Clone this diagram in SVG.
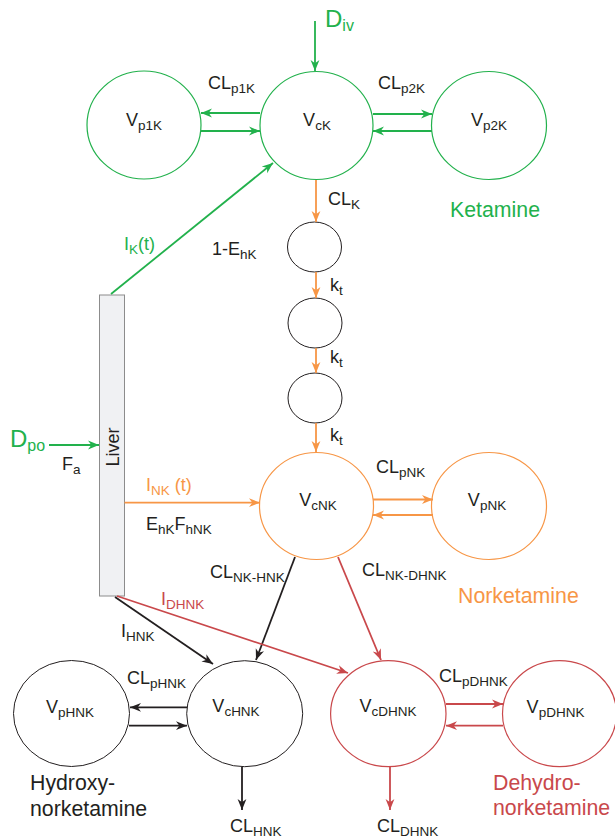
<svg xmlns="http://www.w3.org/2000/svg" width="615" height="839" viewBox="0 0 615 839">
<style>
text{font-family:"Liberation Sans",Arial,sans-serif;font-size:18px;fill:#231f20}
.s{font-size:13.5px}
.g{fill:#22b14c}.o{fill:#f79646}.r{fill:#c9484b}
.big{font-size:24px}
.title{font-size:21.3px}
.cg{fill:none;stroke:#22b14c;stroke-width:1.2}
.co{fill:none;stroke:#f79646;stroke-width:1.2}
.cr{fill:none;stroke:#c9484b;stroke-width:1.2}
.ck{fill:none;stroke:#231f20;stroke-width:1}
.lg{stroke:#22b14c;stroke-width:1.8;fill:none}
.lo{stroke:#f79646;stroke-width:1.8;fill:none}
.lr{stroke:#c9484b;stroke-width:1.8;fill:none}
.lk{stroke:#231f20;stroke-width:1.8;fill:none}
</style>
<defs>
<marker id="ag" viewBox="0 0 10 10" refX="10" refY="5" markerWidth="11" markerHeight="11" markerUnits="userSpaceOnUse" orient="auto"><path d="M0,1 L10,5 L0,9 L3,5 z" fill="#22b14c"/></marker>
<marker id="ao" viewBox="0 0 10 10" refX="10" refY="5" markerWidth="11" markerHeight="11" markerUnits="userSpaceOnUse" orient="auto"><path d="M0,1 L10,5 L0,9 L3,5 z" fill="#f79646"/></marker>
<marker id="ar" viewBox="0 0 10 10" refX="10" refY="5" markerWidth="11" markerHeight="11" markerUnits="userSpaceOnUse" orient="auto"><path d="M0,1 L10,5 L0,9 L3,5 z" fill="#c9484b"/></marker>
<marker id="ak" viewBox="0 0 10 10" refX="10" refY="5" markerWidth="11" markerHeight="11" markerUnits="userSpaceOnUse" orient="auto"><path d="M0,1 L10,5 L0,9 L3,5 z" fill="#231f20"/></marker>
</defs>

<!-- Ketamine -->
<g id="Vp1K"><ellipse class="cg" cx="144" cy="125" rx="57" ry="54"/><text x="144" y="126" text-anchor="middle">V<tspan class="s" dy="4">p1K</tspan></text></g>
<g id="VcK"><ellipse class="cg" cx="316.5" cy="125.5" rx="56.5" ry="54"/><text x="317" y="126" text-anchor="middle">V<tspan class="s" dy="4">cK</tspan></text></g>
<g id="Vp2K"><ellipse class="cg" cx="489" cy="125.5" rx="57.5" ry="54"/><text x="489" y="126" text-anchor="middle">V<tspan class="s" dy="4">p2K</tspan></text></g>
<g id="transit1"><ellipse class="ck" cx="314.5" cy="247" rx="27" ry="25"/></g>
<g id="transit2"><ellipse class="ck" cx="315" cy="323" rx="27" ry="25"/></g>
<g id="transit3"><ellipse class="ck" cx="315" cy="398" rx="27" ry="25"/></g>

<!-- Norketamine -->
<g id="VcNK"><ellipse class="co" cx="316.5" cy="506" rx="57" ry="53.5"/><text x="318" y="506" text-anchor="middle">V<tspan class="s" dy="4">cNK</tspan></text></g>
<g id="VpNK"><ellipse class="co" cx="489" cy="506" rx="57.5" ry="53.5"/><text x="487" y="506" text-anchor="middle">V<tspan class="s" dy="4">pNK</tspan></text></g>

<!-- HNK -->
<g id="VpHNK"><ellipse class="ck" cx="71.5" cy="713.5" rx="58" ry="53"/><text x="70" y="713" text-anchor="middle">V<tspan class="s" dy="4">pHNK</tspan></text></g>
<g id="VcHNK"><ellipse class="ck" cx="244.7" cy="713.7" rx="58" ry="53"/><text x="236" y="712" text-anchor="middle">V<tspan class="s" dy="4">cHNK</tspan></text></g>

<!-- DHNK -->
<g id="VcDHNK"><ellipse class="cr" cx="388.3" cy="713.7" rx="57.7" ry="53"/><text x="388" y="712" text-anchor="middle">V<tspan class="s" dy="4">cDHNK</tspan></text></g>
<g id="VpDHNK"><ellipse class="cr" cx="559.5" cy="713.7" rx="57" ry="53"/><text x="555.5" y="713" text-anchor="middle">V<tspan class="s" dy="4">pDHNK</tspan></text></g>

<!-- Liver -->
<g id="Liver"><rect x="99.5" y="295" width="25" height="301" fill="#f0f1f3" stroke="#8c8c8c" stroke-width="1"/><text transform="translate(118.5,447) rotate(-90)" text-anchor="middle">Liver</text></g>

<!-- connectors -->
<g id="connectors">
<line class="lg" x1="315" y1="21" x2="315" y2="71" marker-end="url(#ag)"/>
<line class="lg" x1="260" y1="113" x2="201" y2="113" marker-end="url(#ag)"/>
<line class="lg" x1="201" y1="131" x2="260" y2="131" marker-end="url(#ag)"/>
<line class="lg" x1="373" y1="114" x2="432" y2="114" marker-end="url(#ag)"/>
<line class="lg" x1="432" y1="131" x2="373" y2="131" marker-end="url(#ag)"/>
<line class="lg" x1="111" y1="294" x2="273" y2="163" marker-end="url(#ag)"/>
<line class="lg" x1="49" y1="445" x2="99" y2="445" marker-end="url(#ag)"/>

<line class="lo" x1="316" y1="180" x2="316" y2="222" marker-end="url(#ao)"/>
<line class="lo" x1="316" y1="272" x2="316" y2="298" marker-end="url(#ao)"/>
<line class="lo" x1="316" y1="348" x2="316" y2="373" marker-end="url(#ao)"/>
<line class="lo" x1="316" y1="423" x2="316" y2="452" marker-end="url(#ao)"/>
<line class="lo" x1="124.5" y1="502.7" x2="260" y2="502.7" marker-end="url(#ao)"/>
<line class="lo" x1="373" y1="499.5" x2="433" y2="499.5" marker-end="url(#ao)"/>
<line class="lo" x1="433" y1="515" x2="373" y2="515" marker-end="url(#ao)"/>

<line class="lk" x1="295" y1="557" x2="256" y2="660" marker-end="url(#ak)"/>
<line class="lk" x1="115" y1="597" x2="213" y2="664" marker-end="url(#ak)"/>
<line class="lk" x1="187" y1="707.3" x2="130" y2="707.3" marker-end="url(#ak)"/>
<line class="lk" x1="129" y1="725.7" x2="187" y2="725.7" marker-end="url(#ak)"/>
<line class="lk" x1="242" y1="767" x2="242" y2="810" marker-end="url(#ak)"/>

<line class="lr" x1="338" y1="557" x2="381" y2="660" marker-end="url(#ar)"/>
<line class="lr" x1="117" y1="596" x2="348" y2="673" marker-end="url(#ar)"/>
<line class="lr" x1="446" y1="704" x2="503" y2="704" marker-end="url(#ar)"/>
<line class="lr" x1="503" y1="725.7" x2="446" y2="725.7" marker-end="url(#ar)"/>
<line class="lr" x1="390" y1="767" x2="390" y2="810" marker-end="url(#ar)"/>
</g>

<!-- labels -->
<g id="labels">
<text class="g big" x="325" y="27">D<tspan class="s" style="font-size:16px" dy="4">iv</tspan></text>
<text x="208" y="89">CL<tspan class="s" dy="4">p1K</tspan></text>
<text x="378" y="89">CL<tspan class="s" dy="4">p2K</tspan></text>
<text class="g title" x="450" y="217">Ketamine</text>
<text x="328" y="205">CL<tspan class="s" dy="4">K</tspan></text>
<text x="330" y="291">k<tspan class="s" dy="4">t</tspan></text>
<text x="330" y="363">k<tspan class="s" dy="4">t</tspan></text>
<text x="330" y="441">k<tspan class="s" dy="4">t</tspan></text>
<text class="g" x="124" y="250">I<tspan class="s" dy="4">K</tspan><tspan dy="-4">(t)</tspan></text>
<text x="212" y="255">1-E<tspan class="s" dy="4">hK</tspan></text>
<text class="g big" x="10" y="447">D<tspan class="s" style="font-size:16px" dy="4">po</tspan></text>
<text x="62" y="470">F<tspan class="s" dy="4">a</tspan></text>
<text class="o" x="146" y="491">I<tspan class="s" dy="4">NK</tspan><tspan dy="-4"> (t)</tspan></text>
<text x="146" y="530">E<tspan class="s" dy="4">hK</tspan><tspan dy="-4">F</tspan><tspan class="s" dy="4">hNK</tspan></text>
<text x="376" y="473">CL<tspan class="s" dy="4">pNK</tspan></text>
<text x="210" y="578">CL<tspan class="s" dy="4">NK-HNK</tspan></text>
<text x="362" y="576">CL<tspan class="s" dy="4">NK-DHNK</tspan></text>
<text class="o title" x="458" y="603">Norketamine</text>
<text class="r" x="161" y="605">I<tspan class="s" dy="4">DHNK</tspan></text>
<text x="121" y="637">I<tspan class="s" dy="4">HNK</tspan></text>
<text x="127" y="684">CL<tspan class="s" dy="4">pHNK</tspan></text>
<text x="439" y="682">CL<tspan class="s" dy="4">pDHNK</tspan></text>
<text class="title" x="30" y="790">Hydroxy-</text>
<text class="title" x="30" y="816">norketamine</text>
<text x="230" y="832">CL<tspan class="s" dy="4">HNK</tspan></text>
<text x="377" y="832">CL<tspan class="s" dy="4">DHNK</tspan></text>
<text class="r title" x="493" y="790">Dehydro-</text>
<text class="r title" x="493" y="815">norketamine</text>
</g>
</svg>
